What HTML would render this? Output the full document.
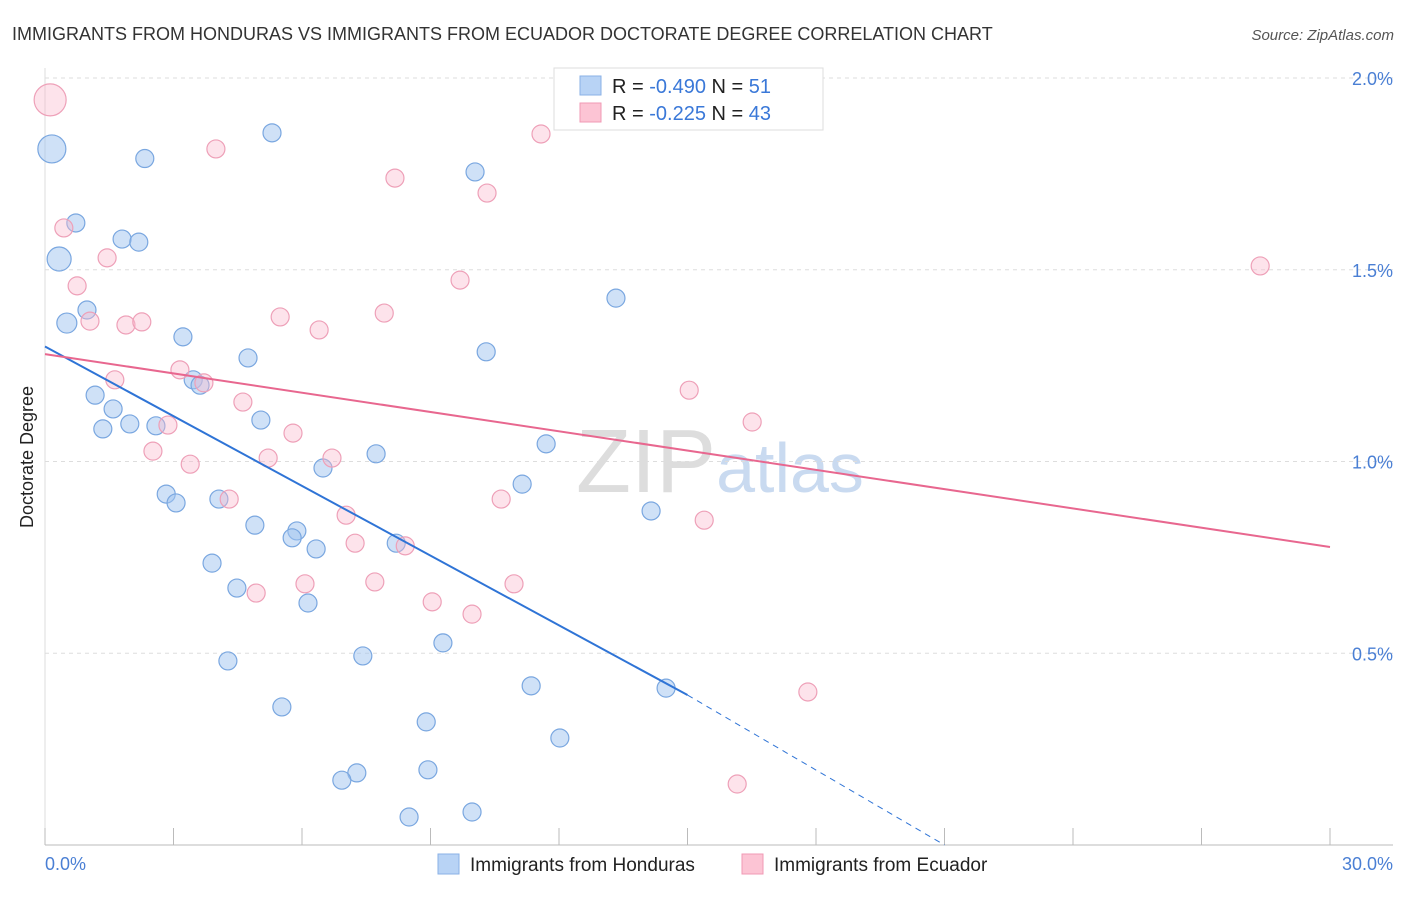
<!DOCTYPE html>
<html><head><meta charset="utf-8"><style>
body{margin:0;background:#fff;font-family:"Liberation Sans",sans-serif;}
svg text{font-family:"Liberation Sans",sans-serif;}
</style></head><body>
<svg id="chart" width="1406" height="892" viewBox="0 0 1406 892" xmlns="http://www.w3.org/2000/svg">
<text x="12" y="40" font-size="18" fill="#333">IMMIGRANTS FROM HONDURAS VS IMMIGRANTS FROM ECUADOR DOCTORATE DEGREE CORRELATION CHART</text>
<text x="1394" y="40" font-size="15" fill="#555" text-anchor="end" font-style="italic">Source: ZipAtlas.com</text>
<text x="720" y="492" font-size="90" fill="#ddd" text-anchor="middle" font-family="Liberation Serif">ZIP<tspan fill="#c9daf0" font-family="Liberation Sans" font-size="70">atlas</tspan></text>
<g id="grid"></g>
<g id="points"></g>
<g id="trends"></g>
<text transform="translate(33,457) rotate(-90)" font-size="18" fill="#222" text-anchor="middle">Doctorate Degree</text>
<text x="45" y="870" font-size="18" fill="#4a7fd4">0.0%</text>
<text x="1393" y="870" font-size="18" fill="#4a7fd4" text-anchor="end">30.0%</text>
<g>
<rect x="554" y="68" width="269" height="62" fill="#fff" stroke="#ddd"/>
<rect x="580" y="76" width="21" height="19" fill="#b8d3f5" stroke="#8ab0e6"/>
<rect x="580" y="103" width="21" height="19" fill="#fcc4d4" stroke="#f09ab4"/>
<text x="612" y="93" font-size="20" fill="#222">R = <tspan fill="#3a78d8">-0.490</tspan>   N = <tspan fill="#3a78d8"> 51</tspan></text>
<text x="612" y="120" font-size="20" fill="#222">R = <tspan fill="#3a78d8"> -0.225</tspan>   N = <tspan fill="#3a78d8">43</tspan></text>
</g>
<g>
<rect x="438" y="854" width="21" height="20" fill="#b8d3f5" stroke="#8ab0e6"/>
<text x="470" y="871" font-size="19" fill="#222">Immigrants from Honduras</text>
<rect x="742" y="854" width="21" height="20" fill="#fcc4d4" stroke="#f09ab4"/>
<text x="774" y="871" font-size="19" fill="#222">Immigrants from Ecuador</text>
</g>
</svg>
<script>
const yTicks=[0.5,1.0,1.5,2.0];
const yTickLabels=["0.5%","1.0%","1.5%","2.0%"];
const xTicks=[0,3,6,9,12,15,18,21,24,27,30];
const hondurasX=[0.16,2.33,5.30,0.72,1.80,2.19,0.33,0.98,0.51,3.22,4.74,10.30,10.04,13.33,1.17,1.59,1.35,1.98,2.59,3.46,3.62,5.04,6.49,7.73,11.70,2.83,3.06,4.06,4.90,5.88,5.77,6.33,8.20,11.14,14.15,3.90,4.48,6.14,4.27,7.42,9.29,5.53,11.35,14.50,8.90,12.02,7.28,6.93,8.94,8.50,9.97];
const hondurasY=[1.815,1.79,1.857,1.622,1.58,1.572,1.528,1.395,1.361,1.325,1.27,1.286,1.755,1.426,1.173,1.137,1.085,1.098,1.093,1.213,1.199,1.108,0.983,1.020,1.046,0.915,0.892,0.902,0.834,0.819,0.801,0.772,0.787,0.941,0.871,0.735,0.670,0.631,0.480,0.493,0.527,0.360,0.415,0.409,0.321,0.279,0.188,0.169,0.196,0.073,0.086];
const hondurasSize=[14,9,9,9,9,9,12,9,10,9,9,9,9,9,9,9,9,9,9,9,9,9,9,9,9,9,9,9,9,9,9,9,9,9,9,9,9,9,9,9,9,9,9,9,9,9,9,9,9,9,9];
const ecuadorX=[0.12,3.99,8.17,10.32,11.58,12.33,0.44,1.45,0.75,1.05,1.89,2.26,5.49,6.40,7.92,9.69,3.15,1.63,3.71,4.62,2.87,2.52,3.39,5.79,5.21,6.70,4.30,7.03,7.24,8.41,10.65,6.07,7.70,10.95,4.93,9.04,9.97,15.04,16.51,15.39,28.37,17.81,16.16];
const ecuadorY=[1.943,1.815,1.739,1.700,1.854,1.950,1.609,1.531,1.458,1.366,1.356,1.364,1.377,1.343,1.387,1.473,1.239,1.213,1.205,1.155,1.095,1.027,0.993,1.074,1.009,1.009,0.902,0.860,0.787,0.780,0.902,0.681,0.686,0.681,0.657,0.634,0.602,1.186,1.103,0.847,1.510,0.399,0.159];
const ecuadorSize=[16,9,9,9,9,9,9,9,9,9,9,9,9,9,9,9,9,9,9,9,9,9,9,9,9,9,9,9,9,9,9,9,9,9,9,9,9,9,9,9,9,9,9];
const hondurasTrend=[[0,1.30],[15,0.391]];
const hondurasTrendExt=[[15,0.391],[21,0]];
const ecuadorTrend=[[0,1.28],[30,0.777]];
const NS="http://www.w3.org/2000/svg";
const sx=v=>45+v*(1285/30);
const sy=v=>845-v*383.5;
function mk(tag,attrs,parent){const e=document.createElementNS(NS,tag);for(const k in attrs)e.setAttribute(k,attrs[k]);parent.appendChild(e);return e;}
const grid=document.getElementById('grid');
yTicks.forEach((t,i)=>{
  const l=mk('line',{x1:45,x2:1393,y1:sy(t),y2:sy(t),stroke:'#ddd','stroke-dasharray':'4,4'},grid);
  
  
  const tx=mk('text',{x:1393,y:sy(t)+7,'font-size':18,fill:'#4a7fd4','text-anchor':'end'},grid);
  tx.textContent=yTickLabels[i];
  
  
});
const ax=mk('line',{x1:45,x2:1393,y1:845,y2:845,stroke:'#bbb'},grid);


const ay=mk('line',{x1:45,x2:45,y1:68,y2:845,stroke:'#ddd'},grid);


xTicks.forEach(t=>{
  const l=mk('line',{x1:sx(t),x2:sx(t),y1:828,y2:845,stroke:'#bbb'},grid);
  
  
});
const pts=document.getElementById('points');
function drawSeries(xs,ys,ss,fill,stroke,name){
  xs.forEach((x,i)=>{
    const c=mk('circle',{cx:sx(x),cy:sy(ys[i]),r:ss[i],fill:fill,stroke:stroke,'stroke-width':1.2},pts);
    
    
  });
}
drawSeries(hondurasX,hondurasY,hondurasSize,'rgba(160,195,240,0.5)','#7aa7e0','honduras-point');
drawSeries(ecuadorX,ecuadorY,ecuadorSize,'rgba(250,185,205,0.4)','#eea0b8','ecuador-point');
const tr=document.getElementById('trends');
function line(p,stroke,dash,name){
  const l=mk('line',{x1:sx(p[0][0]),y1:sy(p[0][1]),x2:sx(p[1][0]),y2:sy(p[1][1]),stroke:stroke,'stroke-width':dash?1:2,'stroke-dasharray':dash||'none'},tr);
  
  
}
line(hondurasTrend,'#2f74d6',null,'honduras-trend-line');
line(hondurasTrendExt,'#2f74d6','6,5','honduras-trend-extension');
line(ecuadorTrend,'#e8678f',null,'ecuador-trend-line');
</script>
</body></html>
